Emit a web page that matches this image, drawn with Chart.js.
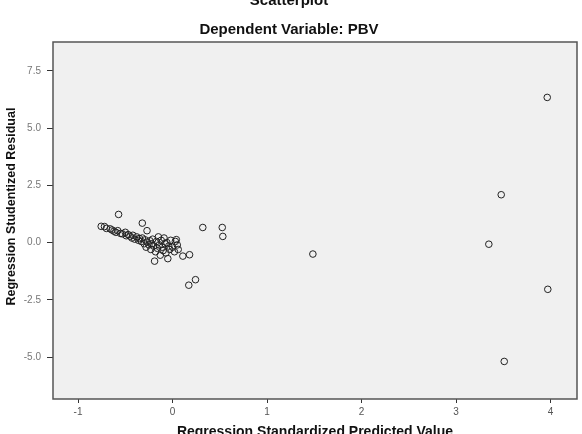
<!DOCTYPE html>
<html>
<head>
<meta charset="utf-8">
<script src="https://cdn.jsdelivr.net/npm/chart.js@4"></script>
<style>
  html, body { margin: 0; padding: 0; background: #fff; overflow: hidden; width: 582px; height: 434px; }
  #wrap { position: absolute; left: 0; top: -14px; width: 582px; height: 459px; }
</style>
</head>
<body>
<div id="wrap"><canvas id="grafico"></canvas></div>
<script>
// Predicted (x) e residual (y)
const preditos = [
  -0.755, -0.72, -0.70, -0.66, -0.64, -0.62, -0.60, -0.58, -0.55, -0.53,
  -0.50, -0.49, -0.47, -0.45, -0.43, -0.42, -0.40, -0.38, -0.36, -0.35,
  -0.33, -0.32, -0.30, -0.29, -0.28, -0.27, -0.25, -0.24, -0.23, -0.22,
  -0.21, -0.20, -0.19, -0.18, -0.17, -0.16, -0.15, -0.14, -0.13, -0.12,
  -0.11, -0.10, -0.09, -0.08, -0.07, -0.06, -0.05, -0.04, -0.03, -0.02,
  0.00, 0.02, 0.03, 0.04, 0.05, 0.06,
  -0.571, -0.32, -0.27, 0.32, 0.526, 0.532, 0.109, 0.18, 0.243, 0.172,
  1.485, 3.347, 3.478, 3.965, 3.971, 3.51
];
const residuos = [
  0.71, 0.70, 0.62, 0.60, 0.55, 0.50, 0.45, 0.52, 0.40, 0.38,
  0.45, 0.30, 0.35, 0.28, 0.20, 0.32, 0.15, 0.25, 0.10, 0.18,
  0.05, 0.20, -0.05, 0.12, -0.20, 0.02, -0.10, 0.08, -0.30, -0.05,
  0.15, -0.15, -0.81, -0.40, 0.05, -0.25, 0.25, -0.10, -0.55, 0.10,
  -0.20, -0.35, 0.20, -0.05, -0.45, 0.00, -0.70, -0.15, -0.30, 0.10,
  -0.20, -0.40, 0.05, 0.13, -0.10, -0.30,
  1.23, 0.85, 0.52, 0.66, 0.66, 0.27, -0.59, -0.53, -1.62, -1.86,
  -0.50, -0.07, 2.09, 6.34, -2.04, -5.19
];
const ticksX = [-1, 0, 1, 2, 3, 4];
const ticksY = [-5, -2.5, 0, 2.5, 5, 7.5];

const pontos = preditos.map((x, i) => ({ x: x, y: residuos[i] }));

// fundo cinza e moldura da area do grafico
const moldura = {
  id: 'moldura',
  beforeDraw(chart) {
    const a = chart.chartArea;
    const ctx = chart.ctx;
    ctx.save();
    ctx.fillStyle = '#f0f0f0';
    ctx.fillRect(a.left, a.top, a.right - a.left, a.bottom - a.top);
    ctx.restore();
  },
  afterDraw(chart) {
    const a = chart.chartArea;
    const ctx = chart.ctx;
    ctx.save();
    ctx.strokeStyle = '#555';
    ctx.lineWidth = 1.5;
    ctx.strokeRect(a.left, a.top, a.right - a.left, a.bottom - a.top);
    ctx.restore();
  }
};

const ctx = document.getElementById('grafico').getContext('2d');

new Chart(ctx, {
  type: 'scatter',
  data: {
    datasets: [{
      label: 'Residual',
      data: pontos,
      pointStyle: 'circle',
      pointRadius: 3.3,
      pointBorderWidth: 1,
      borderColor: '#222',
      backgroundColor: 'rgba(0,0,0,0)'
    }]
  },
  options: {
    responsive: true,
    maintainAspectRatio: false,
    animation: false,
    layout: { padding: { left: 0, right: 4, top: 0, bottom: 0 } },
    plugins: {
      legend: { display: false },
      tooltip: { enabled: false },
      title: {
        display: true,
        text: ['Scatterplot', 'Dependent Variable: PBV'],
        color: '#111',
        font: { family: 'Arial, Liberation Sans', size: 15, weight: 'bold', lineHeight: '29px' },
        padding: { top: 0, bottom: -2 }
      }
    },
    scales: {
      x: {
        type: 'linear',
        min: -1.265,
        max: 4.28,
        afterFit(scale) { scale.height = 46; },
        afterBuildTicks(scale) { scale.ticks = ticksX.map(v => ({ value: v })); },
        border: { display: false },
        grid: { drawOnChartArea: false, drawTicks: true, tickLength: 4, color: '#333' },
        ticks: {
          color: '#555',
          padding: 3,
          font: { family: 'Arial, Liberation Sans', size: 10 },
          callback: v => String(v)
        },
        title: {
          display: true,
          text: 'Regression Standardized Predicted Value',
          color: '#111',
          font: { family: 'Arial, Liberation Sans', size: 14, weight: 'bold' }
        }
      },
      y: {
        type: 'linear',
        min: -6.83,
        max: 8.76,
        afterFit(scale) { scale.width = 53; },
        afterBuildTicks(scale) { scale.ticks = ticksY.map(v => ({ value: v })); },
        border: { display: false },
        grid: { drawOnChartArea: false, drawTicks: true, tickLength: 6, color: '#333' },
        ticks: {
          color: '#777',
          padding: 6,
          font: { family: 'Arial, Liberation Sans', size: 10 },
          callback: v => Number(v).toFixed(1)
        },
        title: {
          display: true,
          // espacos iniciais sobem o texto como no original
          text: '        Regression Studentized Residual',
          color: '#111',
          font: { family: 'Arial, Liberation Sans', size: 12.5, weight: 'bold' }
        }
      }
    }
  },
  plugins: [moldura]
});
</script>
</body>
</html>
